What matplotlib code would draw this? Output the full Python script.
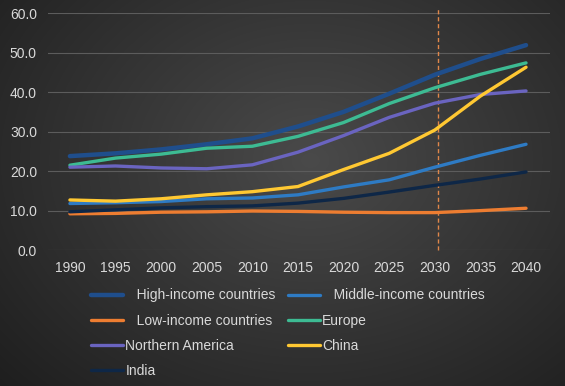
import numpy as np
import matplotlib.pyplot as plt

plt.rcParams['font.family'] = ['Liberation Sans', 'DejaVu Sans']

# Data
years = [1990, 1995, 2000, 2005, 2010, 2015, 2020, 2025, 2030, 2035, 2040]
high_income = [23.8, 24.5, 25.5, 26.8, 28.3, 31.3, 35.0, 39.6, 44.4, 48.4, 51.9]
middle_income = [11.8, 12.0, 12.3, 13.0, 13.2, 14.0, 16.0, 17.8, 21.0, 24.0, 26.8]
low_income = [9.2, 9.3, 9.6, 9.7, 9.9, 9.8, 9.6, 9.5, 9.5, 10.0, 10.6]
europe = [21.5, 23.3, 24.3, 25.8, 26.3, 28.8, 32.3, 37.1, 41.1, 44.5, 47.4]
northern_america = [21.0, 21.3, 20.8, 20.6, 21.6, 24.8, 29.0, 33.6, 37.2, 39.4, 40.3]
china = [12.7, 12.4, 13.0, 14.0, 14.8, 16.1, 20.4, 24.5, 30.4, 39.0, 46.3]
india = [9.7, 10.2, 10.7, 11.0, 11.2, 11.9, 13.1, 14.7, 16.4, 18.0, 19.8]
marker_year = 2030.3

series = [
    ("   High-income countries", high_income, "#1f4e8c", 3.2),
    ("   Middle-income countries", middle_income, "#2e7bc4", 2.4),
    ("   Low-income countries", low_income, "#ed7d31", 2.4),
    ("Europe", europe, "#3dbb93", 2.4),
    ("Northern America", northern_america, "#6a64c0", 2.4),
    ("China", china, "#ffc832", 2.4),
    ("India", india, "#0e2747", 2.4),
]

fig = plt.figure(figsize=(5.65, 3.86), dpi=100)

# radial dark background
bg = fig.add_axes([0, 0, 1, 1], zorder=-10)
yy, xx = np.mgrid[0:386, 0:565]
r = np.sqrt(((xx - 310) / 420.0) ** 2 + ((yy - 160) / 330.0) ** 2)
shade = np.clip(0.29 - 0.17 * r, 0.12, 0.3)
bg.imshow(np.dstack([shade] * 3), aspect='auto', extent=[0, 1, 0, 1])
bg.axis('off')

ax = fig.add_axes([0.085, 0.352, 0.888, 0.614])
ax.patch.set_alpha(0)
handles = []
for name, vals, color, lw in series:
    h, = ax.plot(years, vals, color=color, linewidth=lw, label=name, solid_capstyle='round')
    handles.append(h)

ax.plot([marker_year, marker_year], [0, 61.3], color="#e0874a", linewidth=1,
        linestyle=(0, (3, 2)), clip_on=False, zorder=1)

ax.set_xlim(1987.6, 2042.6)
ax.set_ylim(0, 60)
ax.set_xticks(years)
ax.set_yticks(np.arange(0, 61, 10))
ax.set_yticklabels([f"{v:.1f}" for v in np.arange(0, 61, 10)])
ax.grid(axis='y', color='#5c5c5c', linewidth=0.8)
ax.set_axisbelow(True)
for s in ax.spines.values():
    s.set_visible(False)
ax.tick_params(length=0, colors='#d9d9d9', labelsize=10)
ax.tick_params(axis='y', pad=8)
ax.tick_params(axis='x', pad=8)

# legend fills row by row in the reference
order = [0, 2, 4, 6, 1, 3, 5]
leg = fig.legend([handles[i] for i in order], [series[i][0] for i in order],
                 loc='upper left', bbox_to_anchor=(0.152, 0.267), ncol=2, frameon=False,
                 fontsize=10, labelcolor='#d9d9d9', handlelength=2.3, handletextpad=0.15,
                 labelspacing=0.8, columnspacing=0.9, borderaxespad=0)

fig.savefig('out.png', dpi=100)
